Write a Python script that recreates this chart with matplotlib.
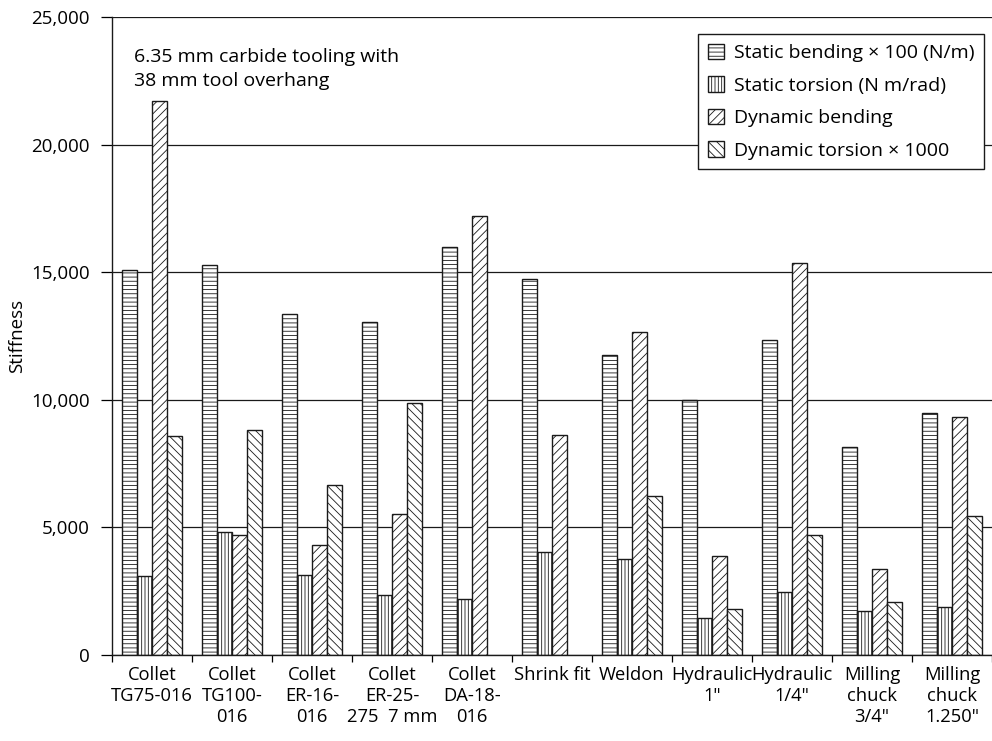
import matplotlib
matplotlib.use("Agg")
import matplotlib.pyplot as plt
import numpy as np
from matplotlib.ticker import FuncFormatter, FixedLocator

plt.rcParams['font.family'] = ['Open Sans', 'DejaVu Sans']
plt.rcParams['hatch.linewidth'] = 0.6

categories = [
    "Collet\nTG75-016",
    "Collet\nTG100-\n016",
    "Collet\nER-16-\n016",
    "Collet\nER-25-\n275  7 mm",
    "Collet\nDA-18-\n016",
    "Shrink fit",
    "Weldon",
    "Hydraulic\n1\"",
    "Hydraulic\n1/4\"",
    "Milling\nchuck\n3/4\"",
    "Milling\nchuck\n1.250\"",
]

series_names = [
    "Static bending \u00d7 100 (N/m)",
    "Static torsion (N m/rad)",
    "Dynamic bending",
    "Dynamic torsion \u00d7 1000",
]

static_bending = [15080, 15280, 13350, 13060, 16000, 14730, 11750, 9990, 12350, 8150, 9500]
static_torsion = [3110, 4810, 3140, 2370, 2200, 4050, 3770, 1460, 2480, 1730, 1890]
dynamic_bending = [21700, 4720, 4320, 5530, 17200, 8630, 12640, 3880, 15380, 3360, 9330]
dynamic_torsion = [8600, 8800, 6650, 9890, np.nan, np.nan, 6250, 1810, 4720, 2080, 5450]

hatches = ['----', '|||||', '////', '\\\\\\\\']

fig = plt.figure(figsize=(9.92, 7.41), dpi=100)
ax = fig.add_axes([112 / 992, 1 - 655 / 741, 880 / 992, 638 / 741])

n = len(categories)
x = np.arange(n) + 0.5
width = 0.19
all_series = [static_bending, static_torsion, dynamic_bending, dynamic_torsion]
for i, (vals, name, h) in enumerate(zip(all_series, series_names, hatches)):
    ax.bar(x + (i - 1.5) * width, vals, width, facecolor='white',
           edgecolor='#1a1a1a', linewidth=1.0, hatch=h, label=name, zorder=2)

ax.set_xlim(0, n)
ax.set_ylim(0, 25000)
ax.set_yticks(np.arange(0, 25001, 5000))
ax.yaxis.set_major_formatter(FuncFormatter(lambda v, p: f"{int(v):,}"))
ax.yaxis.grid(True, color='#1a1a1a', linewidth=0.9, zorder=0)
ax.set_axisbelow(True)

ax.xaxis.set_major_locator(FixedLocator(np.arange(0, n + 1)))
ax.xaxis.set_minor_locator(FixedLocator(x))
ax.set_xticklabels([])
ax.set_xticklabels(categories, minor=True, linespacing=1.2)
ax.tick_params(axis='x', which='major', length=5, width=0.9, direction='out')
ax.tick_params(axis='x', which='minor', length=0, pad=8, labelsize=13.2)
ax.tick_params(axis='y', length=8, width=0.9, direction='out', labelsize=13.5, pad=8)

for s in ['top', 'right']:
    ax.spines[s].set_visible(False)
for s in ['left', 'bottom']:
    ax.spines[s].set_linewidth(1.0)
    ax.spines[s].set_color('#1a1a1a')

ax.set_ylabel("Stiffness", fontsize=13.5, labelpad=4)

ax.text(0.025, 0.951, "6.35 mm carbide tooling with\n38 mm tool overhang",
        transform=ax.transAxes, fontsize=14, va='top', ha='left', linespacing=1.4)

leg = ax.legend(loc='upper right', bbox_to_anchor=(984 / 992, 1 - 34 / 741),
                bbox_transform=fig.transFigure, fontsize=14, frameon=True,
                fancybox=False, edgecolor='#1a1a1a', handlelength=0.85,
                handleheight=0.85, handletextpad=0.5, labelspacing=0.72,
                borderpad=0.5, borderaxespad=0)
leg.get_frame().set_linewidth(1.0)
leg.get_frame().set_alpha(1)

fig.savefig("out.png", dpi=100)
